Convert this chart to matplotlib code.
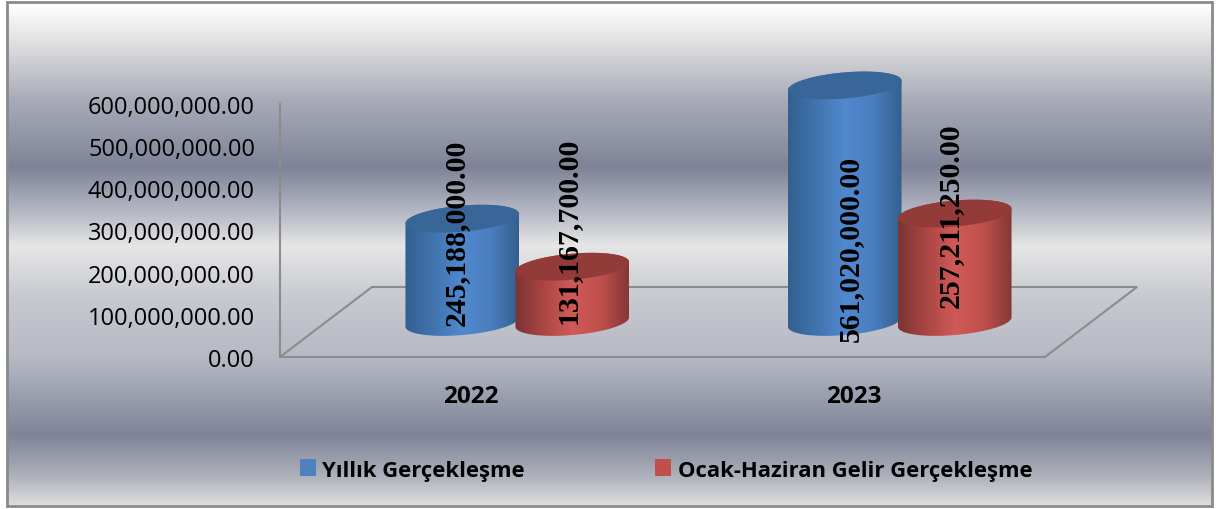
import numpy as np
import matplotlib
matplotlib.use("Agg")
import matplotlib.pyplot as plt
from matplotlib.colors import LinearSegmentedColormap
from matplotlib.patches import Patch, Polygon, Rectangle
from matplotlib.ticker import FuncFormatter

## Data
years = ["2022", "2023"]
yillik = [245188000.00, 561020000.00]
ocak_haziran = [131167700.00, 257211250.00]
series_names = ["Yıllık Gerçekleşme", "Ocak-Haziran Gelir Gerçekleşme"]
y_ticks = [0, 100000000, 200000000, 300000000, 400000000, 500000000, 600000000]

## Figure size and axes box in pixels
W, H = 1218, 510
L, R, T, B = 280, 1045, 105, 358

# Background bands, pixel row and colour
bg_stops = [(4, "#ffffff"), (40, "#e2e2e4"), (100, "#a8abb7"), (168, "#7e8398"),
            (215, "#b8bbc6"), (247, "#e6e6e6"), (300, "#c6c9d0"), (360, "#b6b9c3"),
            (437, "#7e8398"), (480, "#b0b3bc"), (506, "#dddddd")]

blue_side = ["#33608f", "#4174ae", "#5189cf", "#4a7ebf", "#34608f"]
red_side = ["#7a3533", "#ab4644", "#d05a58", "#c0504d", "#843836"]
blue_top = "#386698"
red_top = "#923b39"

fig = plt.figure(figsize=(W / 100, H / 100), dpi=100)
fig.patch.set_facecolor("white")

## Background layer
bg = fig.add_axes([0, 0, 1, 1], zorder=0)
pos = [(p - 4) / (506 - 4) for p, c in bg_stops]
cmap = LinearSegmentedColormap.from_list("bands", list(zip(pos, [c for p, c in bg_stops])))
bg.imshow(np.linspace(0, 1, 500).reshape(-1, 1), cmap=cmap, aspect="auto", extent=[8, 1212, 506, 4])
bg.set_xlim(0, W)
bg.set_ylim(H, 0)
bg.axis("off")
bg.add_patch(Rectangle((7, 3), 1205, 504, fill=False, edgecolor="#8a8a8a", linewidth=2))

## Main chart axes
ax = fig.add_axes([L / W, 1 - B / H, (R - L) / W, (B - T) / H], zorder=1)
ax.patch.set_visible(False)
for s in ["top", "right"]:
    ax.spines[s].set_visible(False)
for s in ["left", "bottom"]:
    ax.spines[s].set_color("#8c8c8c")
    ax.spines[s].set_linewidth(1.5)

ax.set_yticks(y_ticks)
ax.yaxis.set_major_formatter(FuncFormatter(lambda v, p: f"{v:,.2f}"))
ax.set_xticks([i + 0.5 for i in range(len(years))])
ax.set_xticklabels(years, fontfamily="Open Sans", fontweight="bold", fontsize=17.5)
ax.tick_params(axis="x", length=0, pad=19.5)
ax.tick_params(axis="y", length=0, pad=18)
for t in ax.get_yticklabels():
    t.set_fontfamily("Open Sans")
    t.set_fontsize(17)
    t.set_color("black")

# Conversion of a pixel distance to data units
px_x = len(years) / (R - L)
px_y = 600000000 / (B - T)

## Floor of the 3D box
depth_x, depth_y = 92 * px_x, 70 * px_y
ax.add_patch(Polygon([(0, 0), (depth_x, depth_y), (2 + depth_x, depth_y), (2, 0)], closed=True,
                     fill=False, edgecolor="#8c8c8c", linewidth=1.5, clip_on=False, zorder=1))


def half_ellipse(cx, cy, lower, a=57, b=13, tilt=5):
    # One half of a tilted ellipse, built in pixels and returned in data units
    t = np.linspace(np.pi, 2 * np.pi, 91) if lower else np.linspace(0, np.pi, 91)
    r = np.radians(tilt)
    ex = a * np.cos(t) * np.cos(r) - b * np.sin(t) * np.sin(r)
    ey = a * np.cos(t) * np.sin(r) + b * np.sin(t) * np.cos(r)
    return np.column_stack([cx + ex * px_x, cy + ey * px_y])


def cylinder(cx, value, side_cols, top_col, z):
    # Body with a horizontal shine, then the lid
    base = depth_y / 2
    top = base + value
    low = half_ellipse(cx, base, True)
    upp = half_ellipse(cx, top, False)
    lid = np.concatenate([upp, half_ellipse(cx, top, True)])
    clip = Polygon(np.concatenate([low, upp]), closed=True, facecolor="none", edgecolor="none", clip_on=False)
    ax.add_patch(clip)
    grad = LinearSegmentedColormap.from_list("side", side_cols)
    im = ax.imshow(np.linspace(0, 1, 200).reshape(1, -1), cmap=grad, aspect="auto", zorder=z,
                   extent=[low[:, 0].min(), low[:, 0].max(), low[:, 1].min(), upp[:, 1].max()])
    im.set_clip_box(fig.bbox)
    im.set_clip_path(clip)
    ax.add_patch(Polygon(lid, closed=True, facecolor=top_col, edgecolor="none", clip_on=False, zorder=z + 0.1))


# Cylinder centres sit half a depth back, pairs either side of the category
half_gap = 55 * px_x
for i in range(len(years)):
    cx = i + 0.5 + depth_x / 2
    cylinder(cx - half_gap, yillik[i], blue_side, blue_top, 3)
    cylinder(cx + half_gap, ocak_haziran[i], red_side, red_top, 4)

ax.set_xlim(0, len(years))
ax.set_ylim(0, 600000000)

## Data labels, shifted in pixels from each lid
label_shift = [(-6, -13), (-4, 37), (6, -163), (-4, -1)]
vals = [yillik[0], ocak_haziran[0], yillik[1], ocak_haziran[1]]
xs = [0.5 + depth_x / 2 - half_gap, 0.5 + depth_x / 2 + half_gap,
      1.5 + depth_x / 2 - half_gap, 1.5 + depth_x / 2 + half_gap]
for x, v, sh in zip(xs, vals, label_shift):
    ax.annotate(f"{v:,.2f}", (x, v + depth_y / 2), xytext=sh, textcoords="offset pixels", rotation=90,
                ha="center", va="center", fontfamily="Liberation Serif", fontweight="bold",
                fontsize=21.5, color="black", zorder=6, annotation_clip=False)

## Legend
handles = [Patch(facecolor="#4f81bd", label=series_names[0]), Patch(facecolor="#c0504d", label=series_names[1])]
leg = fig.legend(handles=handles, loc="center", bbox_to_anchor=(666 / W, 1 - 471 / H), ncol=2, frameon=False,
                 prop={"family": "Open Sans", "weight": "bold", "size": 15.8},
                 handlelength=0.72, handleheight=0.8, handletextpad=0.3, columnspacing=5.95)

fig.savefig("out.png", dpi=100)
